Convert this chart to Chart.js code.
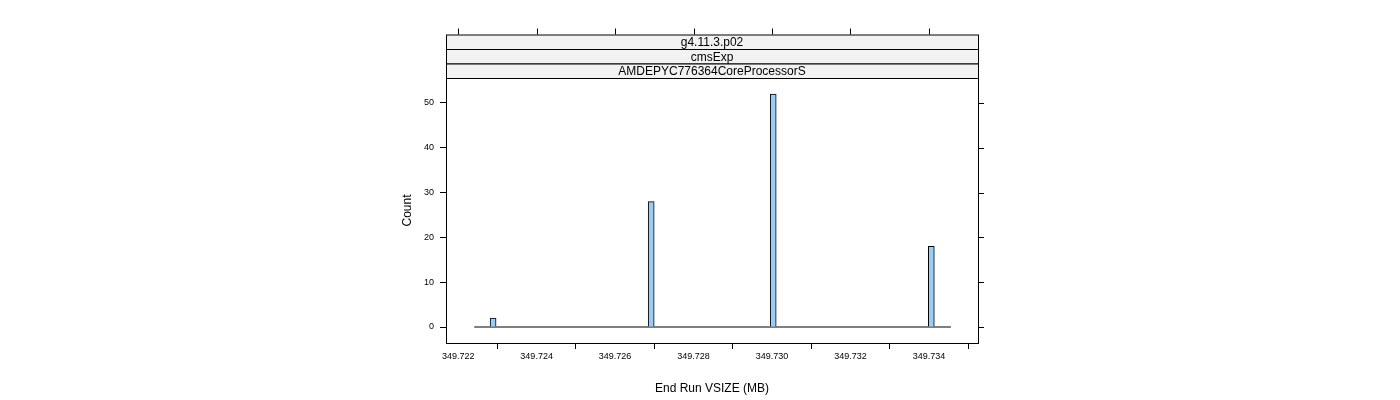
<!DOCTYPE html>
<html><head><script src="https://cdn.jsdelivr.net/npm/chart.js"></script>
<style>html,body{margin:0;padding:0;background:#fff}#wrap{width:1400px;height:400px}</style></head>
<body><div id="wrap"><canvas id="c" width="1400" height="400"></canvas></div>
<script>
const binCenters = [349.72289, 349.72692, 349.73003, 349.73406];
const counts = [2, 28, 52, 18];
const baselineX = [349.72241, 349.73456];
const xTicks = [349.722, 349.724, 349.726, 349.728, 349.730, 349.732, 349.734];
const yTicks = [0, 10, 20, 30, 40, 50];
const strips = ["g4.11.3.p02", "cmsExp", "AMDEPYC776364CoreProcessorS"];

const frame = {
  id: 'frame',
  afterDraw(chart) {
    const {ctx, chartArea: a, scales: {x, y}} = chart;
    ctx.save();
    ctx.strokeStyle = '#000'; ctx.lineWidth = 1;
    ctx.strokeRect(a.left + 0.5, a.top + 0.5, a.right - a.left, a.bottom - a.top);
    // right ticks
    ctx.beginPath();
    yTicks.forEach(v => { const p = Math.round(y.getPixelForValue(v)) + 0.5; ctx.moveTo(a.right, p); ctx.lineTo(a.right + 6, p); });
    // strips
    const sh = 14.5, top = a.top - 3 * sh;
    xTicks.forEach(v => { const p = Math.round(x.getPixelForValue(v)) + 0.5; ctx.moveTo(p, top); ctx.lineTo(p, top - 6); });
    ctx.stroke();
    ctx.font = '12px "Liberation Sans", Arial, sans-serif';
    ctx.textAlign = 'center'; ctx.textBaseline = 'middle';
    strips.forEach((s, i) => {
      const yy = top + i * sh;
      ctx.fillStyle = '#f2f2f2';
      ctx.fillRect(a.left + 0.5, yy + 0.5, a.right - a.left, sh);
      ctx.strokeRect(a.left + 0.5, yy + 0.5, a.right - a.left, sh);
      ctx.fillStyle = '#000';
      ctx.fillText(s, (a.left + a.right) / 2, yy + sh / 2 + 1);
    });
    ctx.restore();
  }
};

new Chart(document.getElementById('c'), {
  data: {
    datasets: [
      { type: 'line', data: baselineX.map(v => ({x: v, y: 0})), borderColor: '#000', borderWidth: 1, pointRadius: 0, order: 2 },
      { type: 'bar', data: binCenters.map((v, i) => ({x: v, y: counts[i]})), backgroundColor: '#99ccf7', borderColor: '#000', borderWidth: 1, barThickness: 6, order: 1 }
    ]
  },
  options: {
    responsive: false, animation: false, devicePixelRatio: 1,
    layout: { padding: { left: 400, right: 422, top: 78, bottom: 0 } },
    plugins: { legend: { display: false }, tooltip: { enabled: false } },
    scales: {
      x: {
        type: 'linear', min: 349.72169, max: 349.73525, offset: false,
        afterBuildTicks: s => { s.ticks = xTicks.map(v => ({value: v})); },
        afterFit: s => { s.height = 57; },
        ticks: { callback: v => v.toFixed(3), color: '#000', font: { size: 9, family: '"Liberation Sans", Arial' }, maxRotation: 0, padding: 2 },
        grid: { drawOnChartArea: false, tickLength: 6, color: '#000' },
        border: { display: false },
        title: { display: true, text: 'End Run VSIZE (MB)', color: '#000', font: { size: 12, family: '"Liberation Sans", Arial' }, padding: { top: 4 } }
      },
      y: {
        min: -3.57, max: 55.58,
        afterBuildTicks: s => { s.ticks = yTicks.map(v => ({value: v})); },
        afterFit: s => { s.width = 46; },
        ticks: { color: '#000', font: { size: 9, family: '"Liberation Sans", Arial' }, padding: 6 },
        grid: { drawOnChartArea: false, tickLength: 6, color: '#000' },
        border: { display: false },
        title: { display: true, text: 'Count', color: '#000', font: { size: 12, family: '"Liberation Sans", Arial' }, padding: 0 }
      }
    }
  },
  plugins: [frame]
});
</script></body></html>
